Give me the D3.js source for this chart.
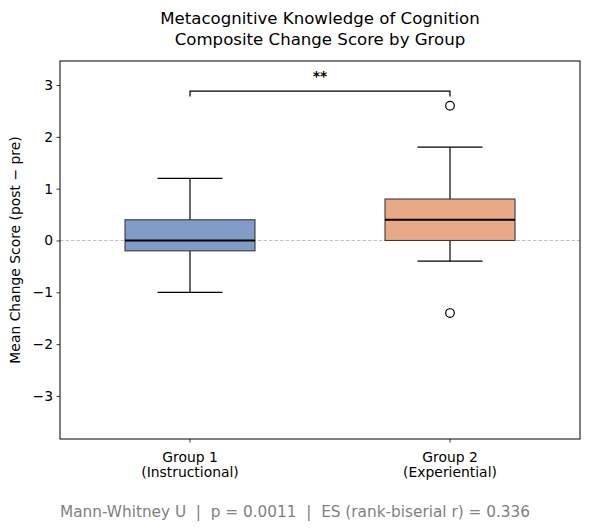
<!DOCTYPE html>
<html>
<head>
<meta charset="utf-8">
<script src="https://cdn.jsdelivr.net/npm/d3@7"></script>
<style>
  body { margin: 0; background: #fff; }
  svg { font-family: "DejaVu Sans", sans-serif; }
</style>
</head>
<body>
<div id="plotDiv"></div>
<script>
// data
var groups = ["Group 1|(Instructional)", "Group 2|(Experiential)"];
var colors = ["#829cc8", "#e7a986"];
var whiskerLow = [-1.0, -0.4];
var q1 = [-0.2, 0.0];
var medians = [0.0, 0.4];
var q3 = [0.4, 0.8];
var whiskerHigh = [1.2, 1.8];
var outliers = [[], [2.6, -1.4]];
var yTicks = [-3, -2, -1, 0, 1, 2, 3];
var bracketY = 2.88;
var sigLabel = "**";
var footText = "Mann-Whitney U  |  p = 0.0011  |  ES (rank-biserial r) = 0.336";

var margin = { top: 61, right: 10, bottom: 92, left: 60 };
var width = 590 - margin.left - margin.right;
var height = 531 - margin.top - margin.bottom;

var svg = d3.select("#plotDiv").append("svg")
    .attr("width", 590)
    .attr("height", 531);

var g = svg.append("g").attr("transform", "translate(" + margin.left + "," + margin.top + ")");

var xScale = d3.scaleBand().domain(groups).range([0, width]);
var yScale = d3.scaleLinear().domain([-3.83, 3.463]).range([height, 0]);

var bw = xScale.bandwidth();
function cx(i) { return xScale(groups[i]) + bw / 2; }

// zero reference line
g.append("line")
    .attr("x1", 0).attr("x2", width)
    .attr("y1", yScale(0)).attr("y2", yScale(0))
    .attr("stroke", "#b0b0b0").attr("stroke-width", 0.8)
    .attr("stroke-dasharray", "3.5,2");

// axes
var yAxis = d3.axisLeft(yScale).tickValues(yTicks).tickSize(3.5).tickPadding(3.5)
    .tickFormat(function (d) { return d < 0 ? "\u2212" + Math.abs(d) : d; });
var yg = g.append("g").call(yAxis);
yg.select(".domain").remove();
yg.selectAll("text").attr("font-size", "13.9px").attr("fill", "#000").attr("font-family", "DejaVu Sans");
yg.selectAll("line").attr("stroke", "#000").attr("stroke-width", 0.8);

var xAxis = d3.axisBottom(xScale).tickSize(3.5).tickFormat("");
var xg = g.append("g").attr("transform", "translate(0," + height + ")").call(xAxis);
xg.select(".domain").remove();
xg.selectAll("line").attr("stroke", "#000").attr("stroke-width", 0.8);
xg.selectAll(".tick").each(function (d) {
    var parts = d.split("|");
    var t = d3.select(this).append("text")
        .attr("fill", "#000").attr("font-size", "13.9px")
        .attr("text-anchor", "middle").attr("font-family", "DejaVu Sans");
    parts.forEach(function (p, k) {
        t.append("tspan").attr("x", 0).attr("y", 23 + k * 15).text(p);
    });
});

// boxes
groups.forEach(function (grp, i) {
    var x = cx(i);
    var half = bw * 0.25;
    var cap = bw * 0.125;
    var box = g.append("g");
    box.append("line").attr("x1", x).attr("x2", x)
        .attr("y1", yScale(q3[i])).attr("y2", yScale(whiskerHigh[i]))
        .attr("stroke", "#000").attr("stroke-width", 1.2);
    box.append("line").attr("x1", x).attr("x2", x)
        .attr("y1", yScale(q1[i])).attr("y2", yScale(whiskerLow[i]))
        .attr("stroke", "#000").attr("stroke-width", 1.2);
    [whiskerLow[i], whiskerHigh[i]].forEach(function (v) {
        box.append("line").attr("x1", x - cap).attr("x2", x + cap)
            .attr("y1", yScale(v)).attr("y2", yScale(v))
            .attr("stroke", "#000").attr("stroke-width", 1.2);
    });
    box.append("rect")
        .attr("x", x - half).attr("width", half * 2)
        .attr("y", yScale(q3[i])).attr("height", yScale(q1[i]) - yScale(q3[i]))
        .attr("fill", colors[i]).attr("stroke", "#3a3a3a").attr("stroke-width", 1.1);
    box.append("line").attr("x1", x - half).attr("x2", x + half)
        .attr("y1", yScale(medians[i])).attr("y2", yScale(medians[i]))
        .attr("stroke", "#000").attr("stroke-width", 2);
    outliers[i].forEach(function (v) {
        box.append("circle").attr("cx", x).attr("cy", yScale(v)).attr("r", 4.3)
            .attr("fill", "none").attr("stroke", "#000").attr("stroke-width", 1.2);
    });
});

// significance bracket
var bx1 = cx(0), bx2 = cx(1);
g.append("path")
    .attr("d", "M" + bx1 + "," + yScale(bracketY - 0.1) + "V" + yScale(bracketY) +
        "H" + bx2 + "V" + yScale(bracketY - 0.1))
    .attr("fill", "none").attr("stroke", "#000").attr("stroke-width", 1.2);
g.append("text")
    .attr("x", (bx1 + bx2) / 2).attr("y", yScale(bracketY) - 10)
    .attr("text-anchor", "middle").attr("font-size", "13.9px").attr("font-weight", "bold")
    .text(sigLabel);

// frame
g.append("rect").attr("width", width).attr("height", height)
    .attr("fill", "none").attr("stroke", "#000").attr("stroke-width", 1);

// y label
svg.append("text")
    .attr("transform", "translate(20," + (margin.top + height / 2) + ") rotate(-90)")
    .attr("text-anchor", "middle").attr("font-size", "13.9px")
    .text("Mean Change Score (post \u2212 pre)");

// title
var title = svg.append("text").attr("text-anchor", "middle").attr("font-size", "16.6px");
title.append("tspan").attr("x", margin.left + width / 2).attr("y", 24).text("Metacognitive Knowledge of Cognition");
title.append("tspan").attr("x", margin.left + width / 2).attr("y", 45).text("Composite Change Score by Group");

// footer
svg.append("text")
    .attr("x", 60).attr("y", 517)
    .attr("font-size", "15.3px").attr("fill", "#808080")
    .style("white-space", "pre")
    .text(footText);
</script>
</body>
</html>
